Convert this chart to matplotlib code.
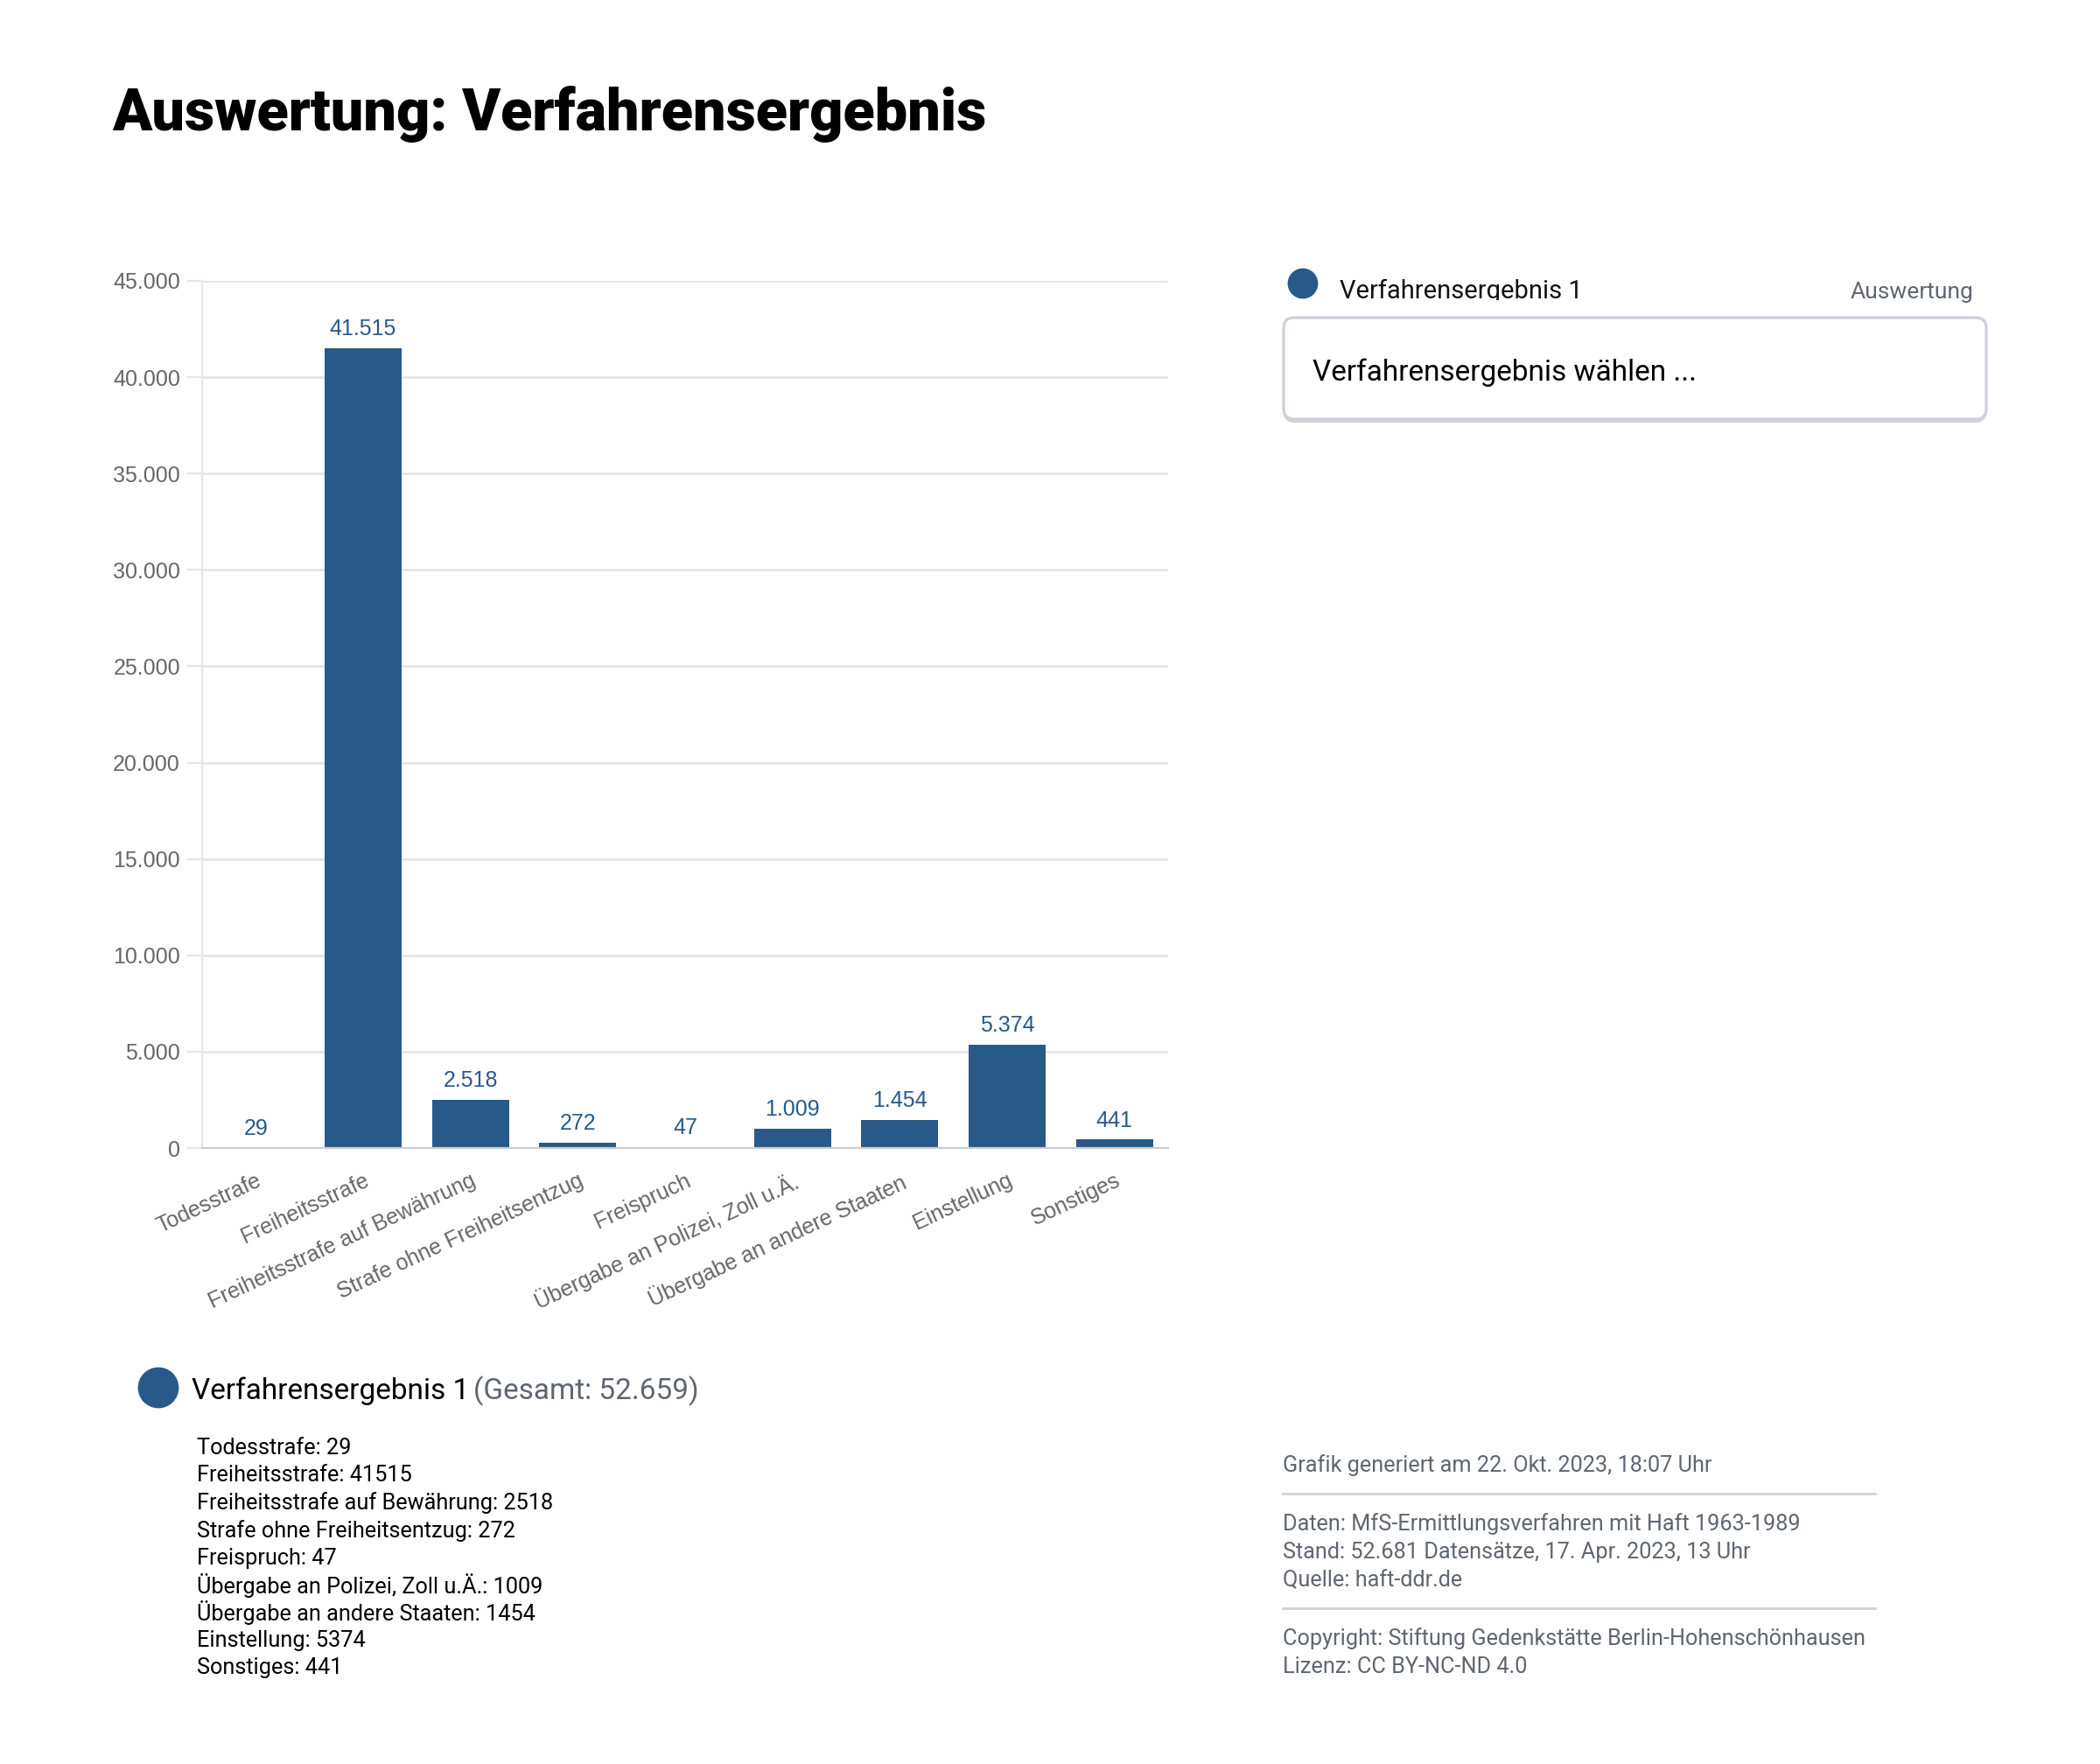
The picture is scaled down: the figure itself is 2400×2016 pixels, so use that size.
import matplotlib.pyplot as plt
import numpy as np
from matplotlib.patches import Ellipse, FancyBboxPatch, Rectangle
from matplotlib.lines import Line2D
from matplotlib.ticker import FuncFormatter

categories = ['Todesstrafe', 'Freiheitsstrafe', 'Freiheitsstrafe auf Bewährung',
              'Strafe ohne Freiheitsentzug', 'Freispruch', 'Übergabe an Polizei, Zoll u.Ä.',
              'Übergabe an andere Staaten', 'Einstellung', 'Sonstiges']
values = [29, 41515, 2518, 272, 47, 1009, 1454, 5374, 441]
series_name = 'Verfahrensergebnis 1'
y_ticks = [0, 5000, 10000, 15000, 20000, 25000, 30000, 35000, 40000, 45000]
footer_lines = ['Daten: MfS-Ermittlungsverfahren mit Haft 1963-1989',
                'Stand: 52.681 Datensätze, 17. Apr. 2023, 13 Uhr',
                'Quelle: haft-ddr.de']
copyright_lines = ['Copyright: Stiftung Gedenkstätte Berlin-Hohenschönhausen',
                   'Lizenz: CC BY-NC-ND 4.0']

BLUE = '#275a89'
GRAY = '#5f6670'
BODY = 'Roboto'
W, H, DPI = 2400, 2016, 200


def de(n):
    return f'{n:,.0f}'.replace(',', '.')


fig = plt.figure(figsize=(W / DPI, H / DPI), dpi=DPI)
fig.patch.set_facecolor('white')
tr = fig.dpi_scale_trans


def P(x, y):
    # pixel position (from top-left) -> inches
    return x / DPI, (H - y) / DPI


def txt(x, y, s, **kw):
    fig.text(*P(x, y), s, transform=tr, **kw)


# title
txt(128, 131, 'Auswertung: Verfahrensergebnis', fontsize=24, fontweight='black',
    family='Roboto', va='center', color='black')

# chart
ax = fig.add_axes([231 / W, 1 - 1312 / H, (1335 - 231) / W, (1312 - 321) / H])
x = np.arange(len(categories))
ax.bar(x, values, width=0.72, color=BLUE, zorder=3)
for xi, v in zip(x, values):
    ax.annotate(de(v), (xi, v), xytext=(0, 3.5), textcoords='offset points',
                ha='center', va='bottom', fontsize=9, color=BLUE, family='Liberation Sans')

ax.set_xlim(-0.5, len(categories) - 0.5)
ax.set_ylim(0, 45000)
ax.set_yticks(y_ticks)
ax.yaxis.set_major_formatter(FuncFormatter(lambda v, p: de(v)))
ax.grid(axis='y', color='#e6e6e6', linewidth=1, zorder=0)
for s in ['top', 'right']:
    ax.spines[s].set_visible(False)
ax.spines['left'].set_color('#e6e6e6')
ax.spines['bottom'].set_color('#cccccc')
ax.spines['bottom'].set_zorder(4)
ax.tick_params(axis='y', length=6, color='#e6e6e6', labelsize=9, labelcolor='#666666', pad=3)
ax.tick_params(axis='x', length=0, pad=9)
ax.set_xticks(x)
ax.set_xticklabels(categories, rotation=25, ha='right', rotation_mode='anchor',
                   fontsize=9, color='#666666')
for lab in ax.get_xticklabels() + ax.get_yticklabels():
    lab.set_family('Liberation Sans')

# right panel: legend item and selection box
fig.add_artist(Ellipse(P(1489, 324), 32 / DPI, 32 / DPI, transform=tr, color=BLUE))
txt(1531, 333, series_name, fontsize=10.5, family=BODY, va='center', color='#111111')
txt(2255, 334, 'Auswertung', fontsize=9.5, family=BODY, va='center', ha='right', color=GRAY)
fig.add_artist(Rectangle(P(1500, 361), 400 / DPI, 18 / DPI, transform=tr,
                         facecolor='white', edgecolor='none', zorder=5))
bx0, by0 = P(1467, 479)
fig.add_artist(FancyBboxPatch((bx0, by0 - 4 / DPI), (2270 - 1467) / DPI, (479 - 363) / DPI,
                              boxstyle='round,pad=0,rounding_size=0.06', transform=tr,
                              facecolor='#d4d4d8', edgecolor='none', zorder=6))
fig.add_artist(FancyBboxPatch((bx0, by0), (2270 - 1467) / DPI, (479 - 363) / DPI,
                              boxstyle='round,pad=0,rounding_size=0.06', transform=tr,
                              facecolor='white', edgecolor='#d0d0dc', linewidth=1.2, zorder=7))
fig.text(*P(1500, 426), 'Verfahrensergebnis wählen ...', transform=tr, fontsize=12,
         family=BODY, va='center', color='black', zorder=8)

# bottom legend with totals
fig.add_artist(Ellipse(P(181, 1586), 44 / DPI, 44 / DPI, transform=tr, color=BLUE))
t = fig.text(*P(219, 1590), series_name, transform=tr, fontsize=12, family=BODY,
             va='center', color='black')
fig.canvas.draw()
bb = t.get_window_extent()
fig.text(bb.x1 / DPI + 5 / DPI, (H - 1590) / DPI, f'(Gesamt: {de(sum(values))})',
         transform=tr, fontsize=12, family=BODY, va='center', color=GRAY)
for i, (c, v) in enumerate(zip(categories, values)):
    txt(225, 1655 + i * 31.4, f'{c}: {v}', fontsize=9.1, family=BODY, va='center', color='black')

# footer
txt(1466, 1675, 'Grafik generiert am 22. Okt. 2023, 18:07 Uhr', fontsize=9.1, family=BODY,
    va='center', color=GRAY)
for yy in (1707, 1838):
    fig.add_artist(Line2D([1466 / DPI, 2143 / DPI], [(H - yy) / DPI] * 2, transform=tr,
                          color='#cdd3dc', linewidth=1))
for i, s in enumerate(footer_lines):
    txt(1466, 1742 + i * 32, s, fontsize=9.1, family=BODY, va='center', color=GRAY)
for i, s in enumerate(copyright_lines):
    txt(1466, 1873 + i * 32, s, fontsize=9.1, family=BODY, va='center', color=GRAY)

fig.savefig('out.png', dpi=DPI, facecolor='white')
